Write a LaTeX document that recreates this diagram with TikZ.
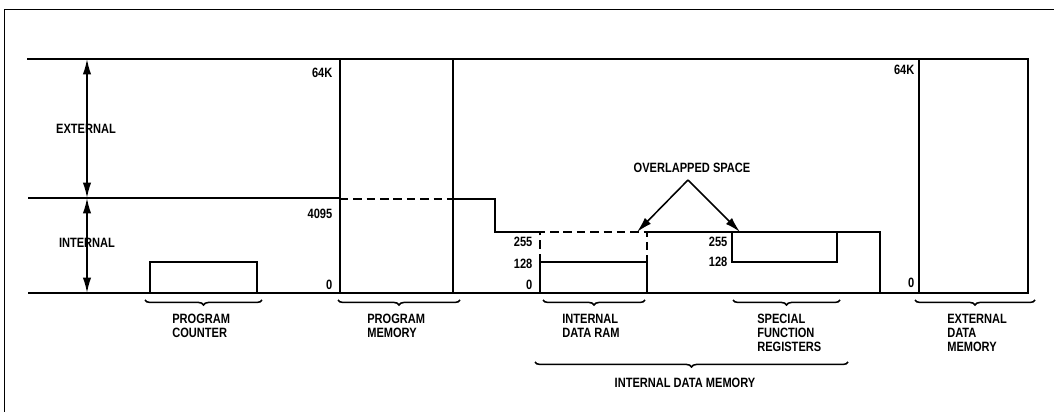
\documentclass[tikz,border=0pt]{standalone}
\usepackage{fontspec}
\newfontfamily\lblfont[FakeStretch=0.82]{Liberation Sans}
\usepackage{tikz}
\usetikzlibrary{arrows.meta, positioning, decorations.pathreplacing}

\newcommand{\lblsize}{\lblfont\bfseries\fontsize{9.6}{10}\selectfont}

\begin{document}
\begin{tikzpicture}[
  x=0.025cm, y=-0.025cm,
  memline/.style={line width=1.2pt},
  membox/.style={line width=1.9pt},
  dashbox/.style={line width=1.5pt, dash pattern=on 6pt off 3.5pt},
  numlbl/.style={font=\lblsize, anchor=east, inner sep=1pt},
  caption/.style={font=\lblsize, align=left, anchor=north west, inner sep=0pt},
  plainlbl/.style={font=\lblsize, inner sep=1pt},
  arr/.style={-{Latex[length=11pt,width=6pt]}, line width=1.1pt},
  dblarr/.style={{Latex[length=11pt,width=6pt]}-{Latex[length=11pt,width=6pt]}, line width=1.1pt},
  wbrace/.style={decorate, decoration={brace, mirror, amplitude=3.5pt, aspect=0.5}, line width=1.1pt}
]
\useasboundingbox (0,0) rectangle (1054,412);
% frame
\draw[line width=0.7pt] (1054,9) -- (4,9) -- (4,412);

% levels
\coordinate (top)  at (27,59);
\coordinate (mid)  at (28,198);
\coordinate (base) at (28,293);

% program counter and program memory
\draw[membox] (150,262) rectangle (257,293);
\draw[membox] (340,59) rectangle (453,293);
\draw[dashbox] (340,199) -- (453,199);

% internal data RAM (solid lower half, dashed upper half)
\draw[membox] (540,262) rectangle (647,293);
\draw[dashbox] (540,262) -- (540,232) -- (647,232) -- (647,262);

% special function registers
\draw[membox] (732,232) rectangle (837,262);

% external data memory
\draw[membox] (919,59) rectangle (1028,293);

% outline lines
\draw[memline] (top) -- (340,59);
\draw[memline] (453,59) -- (919,59);
\draw[memline] (mid) -- (340,198);
\draw[memline] (453,199) -- (495,199) -- (495,232) -- (540,232);
\draw[memline] (647,232) -- (732,232);
\draw[memline] (837,232) -- (880,232) -- (880,293);
\draw[memline] (base) -- (919,293);

% external / internal arrows
\coordinate (atop) at (87,59);
\coordinate (amid) at (87,198);
\coordinate (abot) at (87,293);
\draw[dblarr] (atop) -- (amid);
\draw[dblarr] (amid) -- (abot);
\node[plainlbl] (ext) at (86,129) {EXTERNAL};
\node[plainlbl] (int) at (87,243) {INTERNAL};

% addresses
\node[numlbl] (pm64)   at (334,73)  {64K};
\node[numlbl] (pm4095) at (334,214) {4095};
\node[numlbl] (pm0)    at (334,285) {0};
\node[numlbl] (ir255)  at (534,242) {255};
\node[numlbl] (ir128)  at (534,264) {128};
\node[numlbl] (ir0)    at (534,285) {0};
\node[numlbl] (sf255)  at (729,242) {255};
\node[numlbl] (sf128)  at (729,262) {128};
\node[numlbl] (ed64)   at (916,70)  {64K};
\node[numlbl] (ed0)    at (916,283) {0};

% overlapped space
\node[plainlbl] (ovl) at (692,168) {OVERLAPPED SPACE};
\coordinate (apex) at (688,180);
\coordinate (irtop) at (637,232);
\coordinate (sftop) at (740,232);
\draw[arr] (apex) -- (irtop);
\draw[arr] (apex) -- (sftop);

% braces and captions
\draw[wbrace] (145,300) -- (262,300);
\draw[wbrace] (338,300) -- (460,300);
\draw[wbrace] (543,300) -- (645,300);
\draw[wbrace] (733,300) -- (840,300);
\draw[wbrace] (915,300) -- (1035,300);
\draw[wbrace] (535,362) -- (848,362);

\node[caption] (pc)  at (172,314) {PROGRAM\\COUNTER};
\node[caption] (pm)  at (367,314) {PROGRAM\\MEMORY};
\node[caption] (idr) at (562,314) {INTERNAL\\DATA RAM};
\node[caption] (sfr) at (757,314) {SPECIAL\\FUNCTION\\REGISTERS};
\node[caption] (edm) at (947,314) {EXTERNAL\\DATA\\MEMORY};
\node[plainlbl] (idm) at (685,383) {INTERNAL DATA MEMORY};
\end{tikzpicture}
\end{document}
